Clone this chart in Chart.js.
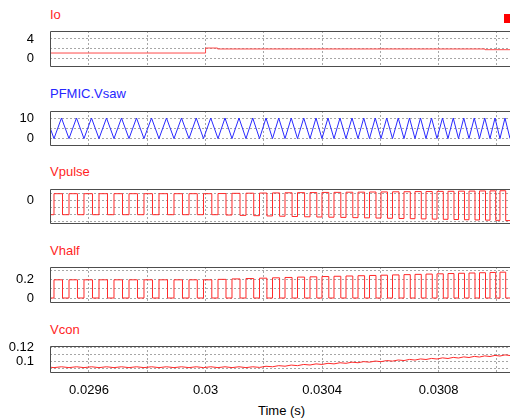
<!DOCTYPE html>
<html><head><meta charset="utf-8">
<script src="https://cdn.jsdelivr.net/npm/chart.js@4/dist/chart.umd.min.js"></script>
<style>
html,body{margin:0;padding:0;background:#fff;overflow:hidden;width:510px;height:418px;position:relative;}
canvas{position:absolute;left:0;}
.t{position:absolute;font:13px "Liberation Sans",Arial,sans-serif;line-height:15px;white-space:nowrap;}
</style></head><body>
<div class="t" style="left:50px;top:6.5px;color:#ff1f1f">Io</div>
<div class="t" style="left:50px;top:86px;color:#2626ff">PFMIC.Vsaw</div>
<div class="t" style="left:50px;top:164px;color:#ff1f1f">Vpulse</div>
<div class="t" style="left:50px;top:242.5px;color:#ff1f1f">Vhalf</div>
<div class="t" style="left:50px;top:322px;color:#ff1f1f">Vcon</div>
<div class="t" style="left:258px;top:403px;color:#000">Time (s)</div>
<div style="position:absolute;left:504px;top:14px;width:6px;height:9px;background:#ff0000"></div>
<canvas id="p1" width="514" height="46" style="top:26px"></canvas>
<canvas id="p2" width="514" height="45" style="top:106px"></canvas>
<canvas id="p3" width="514" height="45" style="top:184px"></canvas>
<canvas id="p4" width="514" height="46" style="top:262px"></canvas>
<canvas id="p5" width="514" height="62" style="top:341px"></canvas>
<script>
// ---- axis ticks ----
const xGridTicks = [0.0296,0.0298,0.03,0.0302,0.0304,0.0306,0.0308,0.031];
const xTickLabels = ['0.0296','0.03','0.0304','0.0308'];
const ioGrid = [4,2,0], ioLabels = [4,0];
const sawGrid = [10,5,0], sawLabels = [10,0];
const pulseGrid = [1,0,-1,-2,-3], pulseLabels = [0];
const halfGrid = [0.3,0.2,0.1,0], halfLabels = [0.2,0];
const vconGrid = [0.12,0.11,0.1,0.09], vconLabels = [0.12,0.1];

// ---- data (time in s) ----
const ioTimes = [0.0294662,0.03,0.0300412,0.0309589,0.0310481];
const ioValues = [1.05,2.1,1.9,1.75,1.75];

const pulseRise = [0.0294799,0.0295314,0.0295828,0.0296343,0.0296858,0.0297373,0.0297887,0.0298402,0.0298917,0.0299432,
  0.0299929,0.0300427,0.0300907,0.0301387,0.0301851,0.0302297,0.0302726,0.0303155,0.0303584,0.0303995,
  0.0304407,0.0304819,0.0305231,0.0305625,0.0306020,0.0306415,0.0306809,0.0307187,0.0307564,0.0307942,
  0.0308319,0.0308679,0.0309040,0.0309400,0.0309760,0.0310103,0.0310447];
const pulseFall = [0.0295091,0.0295605,0.0296120,0.0296635,0.0297150,0.0297664,0.0298179,0.0298694,0.0299208,0.0299716,
  0.0300214,0.0300701,0.0301182,0.0301652,0.0302105,0.0302540,0.0302969,0.0303398,0.0303817,0.0304229,
  0.0304641,0.0305052,0.0305457,0.0305848,0.0306243,0.0306638,0.0307025,0.0307403,0.0307780,0.0308158,
  0.0308525,0.0308885,0.0309246,0.0309606,0.0309956,0.0310299];
const sawPeak = [0.0294542,0.0295056,0.0295571,0.0296086,0.0296601,0.0297115,0.0297630,0.0298145,0.0298659,0.0299174,
  0.0299680,0.0300178,0.0300667,0.0301147,0.0301619,0.0302074,0.0302511,0.0302940,0.0303369,0.0303790,
  0.0304201,0.0304613,0.0305025,0.0305428,0.0305823,0.0306217,0.0306612,0.0306998,0.0307375,0.0307753,
  0.0308130,0.0308499,0.0308860,0.0309220,0.0309580,0.0309932,0.0310275];
const sawLevels = [0,10]; // trough, peak

const vpulseHigh = [1,1,1,1,1,1,1,1,1,1,1,1.02,1.05,1.07,1.09,1.11,1.13,1.15,1.16,1.18,1.19,1.21,1.22,1.24,1.25,1.27,1.28,1.3,1.31,1.33,1.34,1.36,1.37,1.39,1.4,1.42];
const vpulseLow = [-2,-2,-2,-2,-2,-2,-2,-2,-2,-2,-2,-2.05,-2.1,-2.14,-2.18,-2.22,-2.26,-2.3,-2.33,-2.36,-2.39,-2.42,-2.45,-2.48,-2.51,-2.54,-2.57,-2.6,-2.63,-2.66,-2.69,-2.72,-2.75,-2.78,-2.81,-2.84];
const vhalfHigh = [0.2,0.2,0.2,0.2,0.2,0.2,0.2,0.2,0.2,0.2,0.2,0.205,0.21,0.214,0.218,0.222,0.226,0.23,0.233,0.236,0.239,0.242,0.245,0.248,0.251,0.254,0.257,0.26,0.263,0.266,0.269,0.272,0.275,0.278,0.281,0.284];
const vhalfLow = 0;

const vconAtPeak = [0.0928,0.0928,0.0928,0.0928,0.0928,0.0928,0.0928,0.0928,0.0928,0.0928,0.0928,0.0928,0.0928,0.0928,0.0928,
  0.0935,0.0944,0.0952,0.0961,0.0969,0.0977,0.0985,0.0993,0.1001,0.1009,0.1016,0.1024,0.1032,0.1039,0.1046,0.1054,0.1061,0.1068,0.1075,0.1082,0.1089,0.1096];
const vconAtRise = [0.0916,0.0916,0.0916,0.0916,0.0916,0.0916,0.0916,0.0916,0.0916,0.0916,0.0916,0.0916,0.0916,0.0916,
  0.0919,0.0928,0.0936,0.0944,0.0953,0.0961,0.0969,0.0977,0.0985,0.0993,0.1000,0.1008,0.1016,0.1023,0.1031,0.1038,0.1045,0.1052,0.1059,0.1066,0.1073,0.1080,0.1087];

const xMin = 0.0294662, xMax = 0.0310481;

// ---- build point lists ----
const ioData = ioTimes.map((t,i)=>({x:t,y:ioValues[i]}));
const sawData = [];
sawPeak.forEach((t,i)=>{ sawData.push({x:t,y:sawLevels[1]}); sawData.push({x:pulseRise[i],y:sawLevels[0]}); });
const pulseData = [{x:xMin,y:vpulseLow[0]}];
const halfData = [{x:xMin,y:vhalfLow}];
pulseFall.forEach((t,i)=>{
  pulseData.push({x:pulseRise[i],y:vpulseHigh[i]}); pulseData.push({x:t,y:vpulseLow[i]});
  halfData.push({x:pulseRise[i],y:vhalfHigh[i]}); halfData.push({x:t,y:vhalfLow});
});
pulseData.push({x:xMax,y:vpulseLow[vpulseLow.length-1]});
halfData.push({x:xMax,y:vhalfLow});
const vconData = [];
sawPeak.forEach((t,i)=>{ vconData.push({x:t,y:vconAtPeak[i]}); vconData.push({x:pulseRise[i],y:vconAtRise[i]}); });

// ---- chart helpers ----
const FONT = {family:'"Liberation Sans", Arial, sans-serif', size:13};
const RED = '#ff2a2a', BLUE = '#2a2aff', GRID = '#a6a6a6';
const framePlugin = {id:'frame', afterDraw(c){
  const a=c.chartArea, ctx=c.ctx; ctx.save(); ctx.strokeStyle='#4d4d4d'; ctx.lineWidth=1;
  const l=Math.round(a.left)+0.5, t=Math.round(a.top)+0.5, b=Math.round(a.bottom)-0.5;
  ctx.beginPath(); ctx.moveTo(c.width,t); ctx.lineTo(l,t); ctx.lineTo(l,b); ctx.lineTo(c.width,b); ctx.stroke(); ctx.restore();
}};
function noPad(s){ s.paddingTop=0; s.paddingBottom=0; s.paddingLeft=0; s.paddingRight=0; }
function makeChart(id, dataset, yMin, yMax, grid, labels, showX, padBottom){
  return new Chart(document.getElementById(id), {
    type:'line',
    data:{datasets:[dataset]},
    plugins:[framePlugin],
    options:{
      responsive:false, animation:false, devicePixelRatio:1, events:[],
      layout:{autoPadding:false, padding:{top:5,bottom:padBottom,left:0,right:3}},
      plugins:{legend:{display:false}, tooltip:{enabled:false}},
      elements:{point:{radius:0}, line:{borderWidth:1, tension:0}},
      scales:{
        x:{type:'linear', min:xMin, max:xMax, border:{display:false, dash:[2,2]},
          grid:{color:()=>GRID, drawTicks:false, lineWidth:1},
          afterBuildTicks:s=>{ s.ticks = xGridTicks.map(v=>({value:v})); },
          afterFit:noPad,
          ticks:{display:showX, padding:9, color:'#000', font:FONT, autoSkip:false, maxRotation:0,
            callback:v=>{ const f=String(+(+v).toFixed(4)); return xTickLabels.includes(f)?f:''; }}},
        y:{type:'linear', min:yMin, max:yMax, border:{display:false, dash:[2,2]},
          grid:{color:()=>GRID, drawTicks:false, lineWidth:1},
          afterBuildTicks:s=>{ s.ticks = grid.map(v=>({value:v})); },
          afterFit:s=>{ s.width = 50; noPad(s); },
          ticks:{padding:16, color:'#000', font:FONT, autoSkip:false,
            callback:v=>labels.includes(v)?String(v):''}}
      }
    }
  });
}
makeChart('p1', {data:ioData, borderColor:'#ff4a4a', stepped:true}, -1.89, 5.68, ioGrid, ioLabels, false, 5);
makeChart('p2', {data:sawData, borderColor:BLUE}, -3.6, 13.4, sawGrid, sawLabels, false, 5);
makeChart('p3', {data:pulseData, borderColor:RED, stepped:true}, -3.33, 1.67, pulseGrid, pulseLabels, false, 5);
makeChart('p4', {data:halfData, borderColor:RED, stepped:true}, -0.055, 0.341, halfGrid, halfLabels, false, 5);
makeChart('p5', {data:vconData, borderColor:RED}, 0.08356, 0.1222, vconGrid, vconLabels, true, 2.4);
</script>
</body></html>
